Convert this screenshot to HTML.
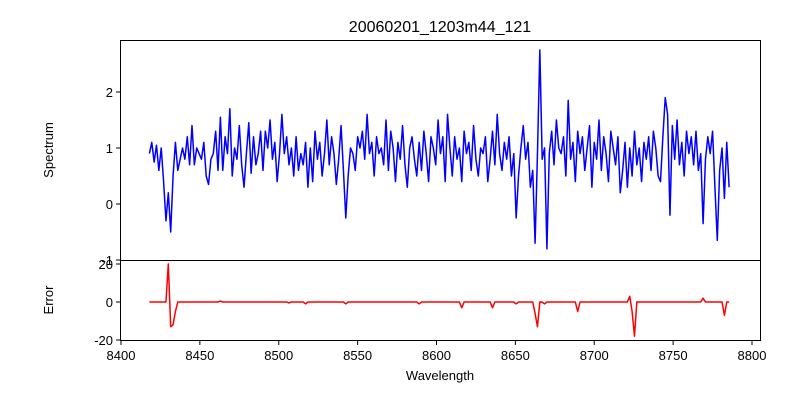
<!DOCTYPE html>
<html><head><meta charset="utf-8"><style>
body{margin:0;background:#fff;}
svg{display:block;font-family:"Liberation Sans","DejaVu Sans",sans-serif;}
</style></head><body>
<svg id="chart" width="800" height="400" viewBox="0 0 800 400" xmlns="http://www.w3.org/2000/svg">
<rect width="800" height="400" fill="#fff"/>
<text x="440" y="32" font-size="16" text-anchor="middle">20060201_1203m44_121</text>
<g id="topPanel"></g>
<g id="botPanel"></g>
<text transform="translate(53,150) rotate(-90)" font-size="13" text-anchor="middle">Spectrum</text>
<text transform="translate(53,300) rotate(-90)" font-size="13" text-anchor="middle">Error</text>
<text x="440" y="380" font-size="13" text-anchor="middle">Wavelength</text>
</svg>
<script>
const lamStart = 8418;
const lamStep = 1.5;
const spectrum = [
0.9,1.1,0.75,1.05,0.6,1.0,0.4,-0.3,0.2,-0.5,
0.5,1.1,0.6,0.8,1.0,0.8,1.2,0.7,1.4,0.7,
1.0,0.9,0.8,1.1,0.5,0.35,0.8,0.9,1.3,0.6,
1.55,0.6,1.2,0.9,1.7,0.5,1.0,0.8,1.4,0.7,
0.3,0.9,1.45,0.55,1.2,0.7,0.9,1.3,0.6,1.3,
1.0,1.5,0.8,1.1,0.4,0.9,1.6,0.9,1.2,0.7,
1.0,0.5,1.2,0.6,0.9,0.7,1.1,0.3,1.0,0.4,
1.3,0.8,1.1,0.5,0.9,1.5,0.7,1.2,0.9,0.35,
0.8,1.4,0.6,-0.25,0.5,1.0,0.9,0.6,1.2,1.0,
1.3,0.8,1.6,0.9,1.1,0.5,1.2,0.9,1.0,0.7,
1.5,0.6,1.3,1.0,0.4,1.1,0.8,1.4,0.7,0.3,
1.0,1.2,0.8,0.5,1.1,0.6,1.3,0.9,0.4,1.2,
1.0,0.7,1.5,0.9,1.2,0.4,1.6,1.0,0.5,1.2,
0.8,1.0,0.4,1.3,0.9,1.1,0.6,1.4,0.8,0.5,
1.0,0.9,1.2,0.4,0.8,1.3,0.7,1.6,0.9,0.6,
1.1,0.8,1.2,0.5,0.9,-0.25,0.5,1.0,1.4,0.8,
1.1,0.3,0.6,-0.7,0.9,2.75,0.8,1.0,-0.8,0.9,
1.3,0.7,1.5,1.0,0.9,1.2,0.5,1.85,0.8,1.1,
0.4,1.3,0.9,1.2,0.6,1.0,1.4,0.3,1.1,0.8,
1.5,0.6,1.2,0.9,0.4,1.3,1.0,0.7,1.2,0.2,
0.6,1.1,0.3,1.0,0.5,1.3,0.7,1.0,0.4,1.1,
0.8,1.2,0.6,1.3,1.0,0.5,0.4,1.2,1.9,1.6,
-0.2,1.4,0.8,1.5,0.7,1.1,0.5,1.3,0.9,1.2,
0.7,1.3,0.6,0.9,-0.35,0.8,1.2,0.9,1.3,0.3,
-0.65,0.6,1.0,0.1,1.1,0.3];
const errorVals = [
0,0,0,0,0,0,0,0,20,-13,
-12,-5,0,0,0,0,0,0,0,0,
0,0,0,0,0,0,0,0,0,0,
0.5,0,0,0,0,0,0,0,0,0,
0,0,0,0,0,0,0,0,0,0,
0,0,0,0,0,0,0,0,0,-0.5,
0,0,0,0,0,0,-1,0,0,0,
0,0,0,0,0,0,0,0,0,0,
0,0,0,-1,0,0,0,0,0,0,
0,0,0,0,0,0,0,0,0,0,
0,0,0,0,0,0,0,0,0,0,
0,0,0,0,-1,0,0,0,0,0,
0,0,0,0,0,0,0,0,0,0,
0,0,-3,0,0,0,0,0,0,0,
0,0,0,0,0,-3,0,0,0,0,
0,0,0,0,0,-1,0,0,0,0,
0,0,0,-6,-13,0,0,-1,0,0,
0,0,0,0,0,0,0,0,0,0,
0,-5,0,0,0,0,0,0,0,0,
0,0,0,0,0,0,0,0,0,0,
0,0,0,3,-5,-18,0,0,0,0,
0,0,0,0,0,0,0,0,0,0,
0,0,0,0,0,0,0,0,0,0,
0,0,0,0,2,0,0,0,0,0,
0,0,0,-7,0,0];
const xTicks = [8400,8450,8500,8550,8600,8650,8700,8750,8800];
const topTicks = [2,1,0,-1];
const botTicks = [20,0,-20];

const NS="http://www.w3.org/2000/svg";
const X0=121, XPX=631/400;
const xS = l => X0 + (l-8400)*XPX;
const yTop = v => 204 - v*56;
const yBot = v => 302 - v*1.9;
function mk(tag, attrs, parent){const e=document.createElementNS(NS,tag);for(const k in attrs)e.setAttribute(k,attrs[k]);parent.appendChild(e);return e;}
const topG=document.getElementById('topPanel'), botG=document.getElementById('botPanel');

function drawLine(arr, yf, color, parent, name){
  const d = arr.map((v,i)=>(i?'L':'M')+xS(lamStart+i*lamStep).toFixed(2)+','+yf(v).toFixed(2)).join('');
  const p = mk('path',{d:d,fill:'none',stroke:color,'stroke-width':1.5,'stroke-linejoin':'round'},parent);
  
  
}
drawLine(spectrum, yTop, '#0000ff', topG, 'spectrum-line');
drawLine(errorVals, yBot, '#ff0000', botG, 'error-line');

const f1 = mk('rect',{x:120.5,y:40.5,width:640,height:220,fill:'none',stroke:'#000','stroke-width':1},topG);


const f2 = mk('rect',{x:120.5,y:260.5,width:640,height:80,fill:'none',stroke:'#000','stroke-width':1},botG);



topTicks.forEach(t=>{
  const y=yTop(t);
  mk('line',{x1:116,x2:120,y1:y,y2:y,stroke:'#000'},topG);
  const tx=mk('text',{x:113,y:y+5,'font-size':13,'text-anchor':'end'},topG);
  tx.textContent=t;
  
  
});
botTicks.forEach(t=>{
  const y=yBot(t);
  mk('line',{x1:116,x2:120,y1:y,y2:y,stroke:'#000'},botG);
  const tx=mk('text',{x:113,y:y+5,'font-size':13,'text-anchor':'end'},botG);
  tx.textContent=t;
  
  
});
xTicks.forEach(t=>{
  const x=xS(t);
  mk('line',{x1:x,x2:x,y1:340,y2:345,stroke:'#000'},botG);
  const tx=mk('text',{x:x,y:360,'font-size':13,'text-anchor':'middle'},botG);
  tx.textContent=t;
  
  
});
</script>
</body></html>
